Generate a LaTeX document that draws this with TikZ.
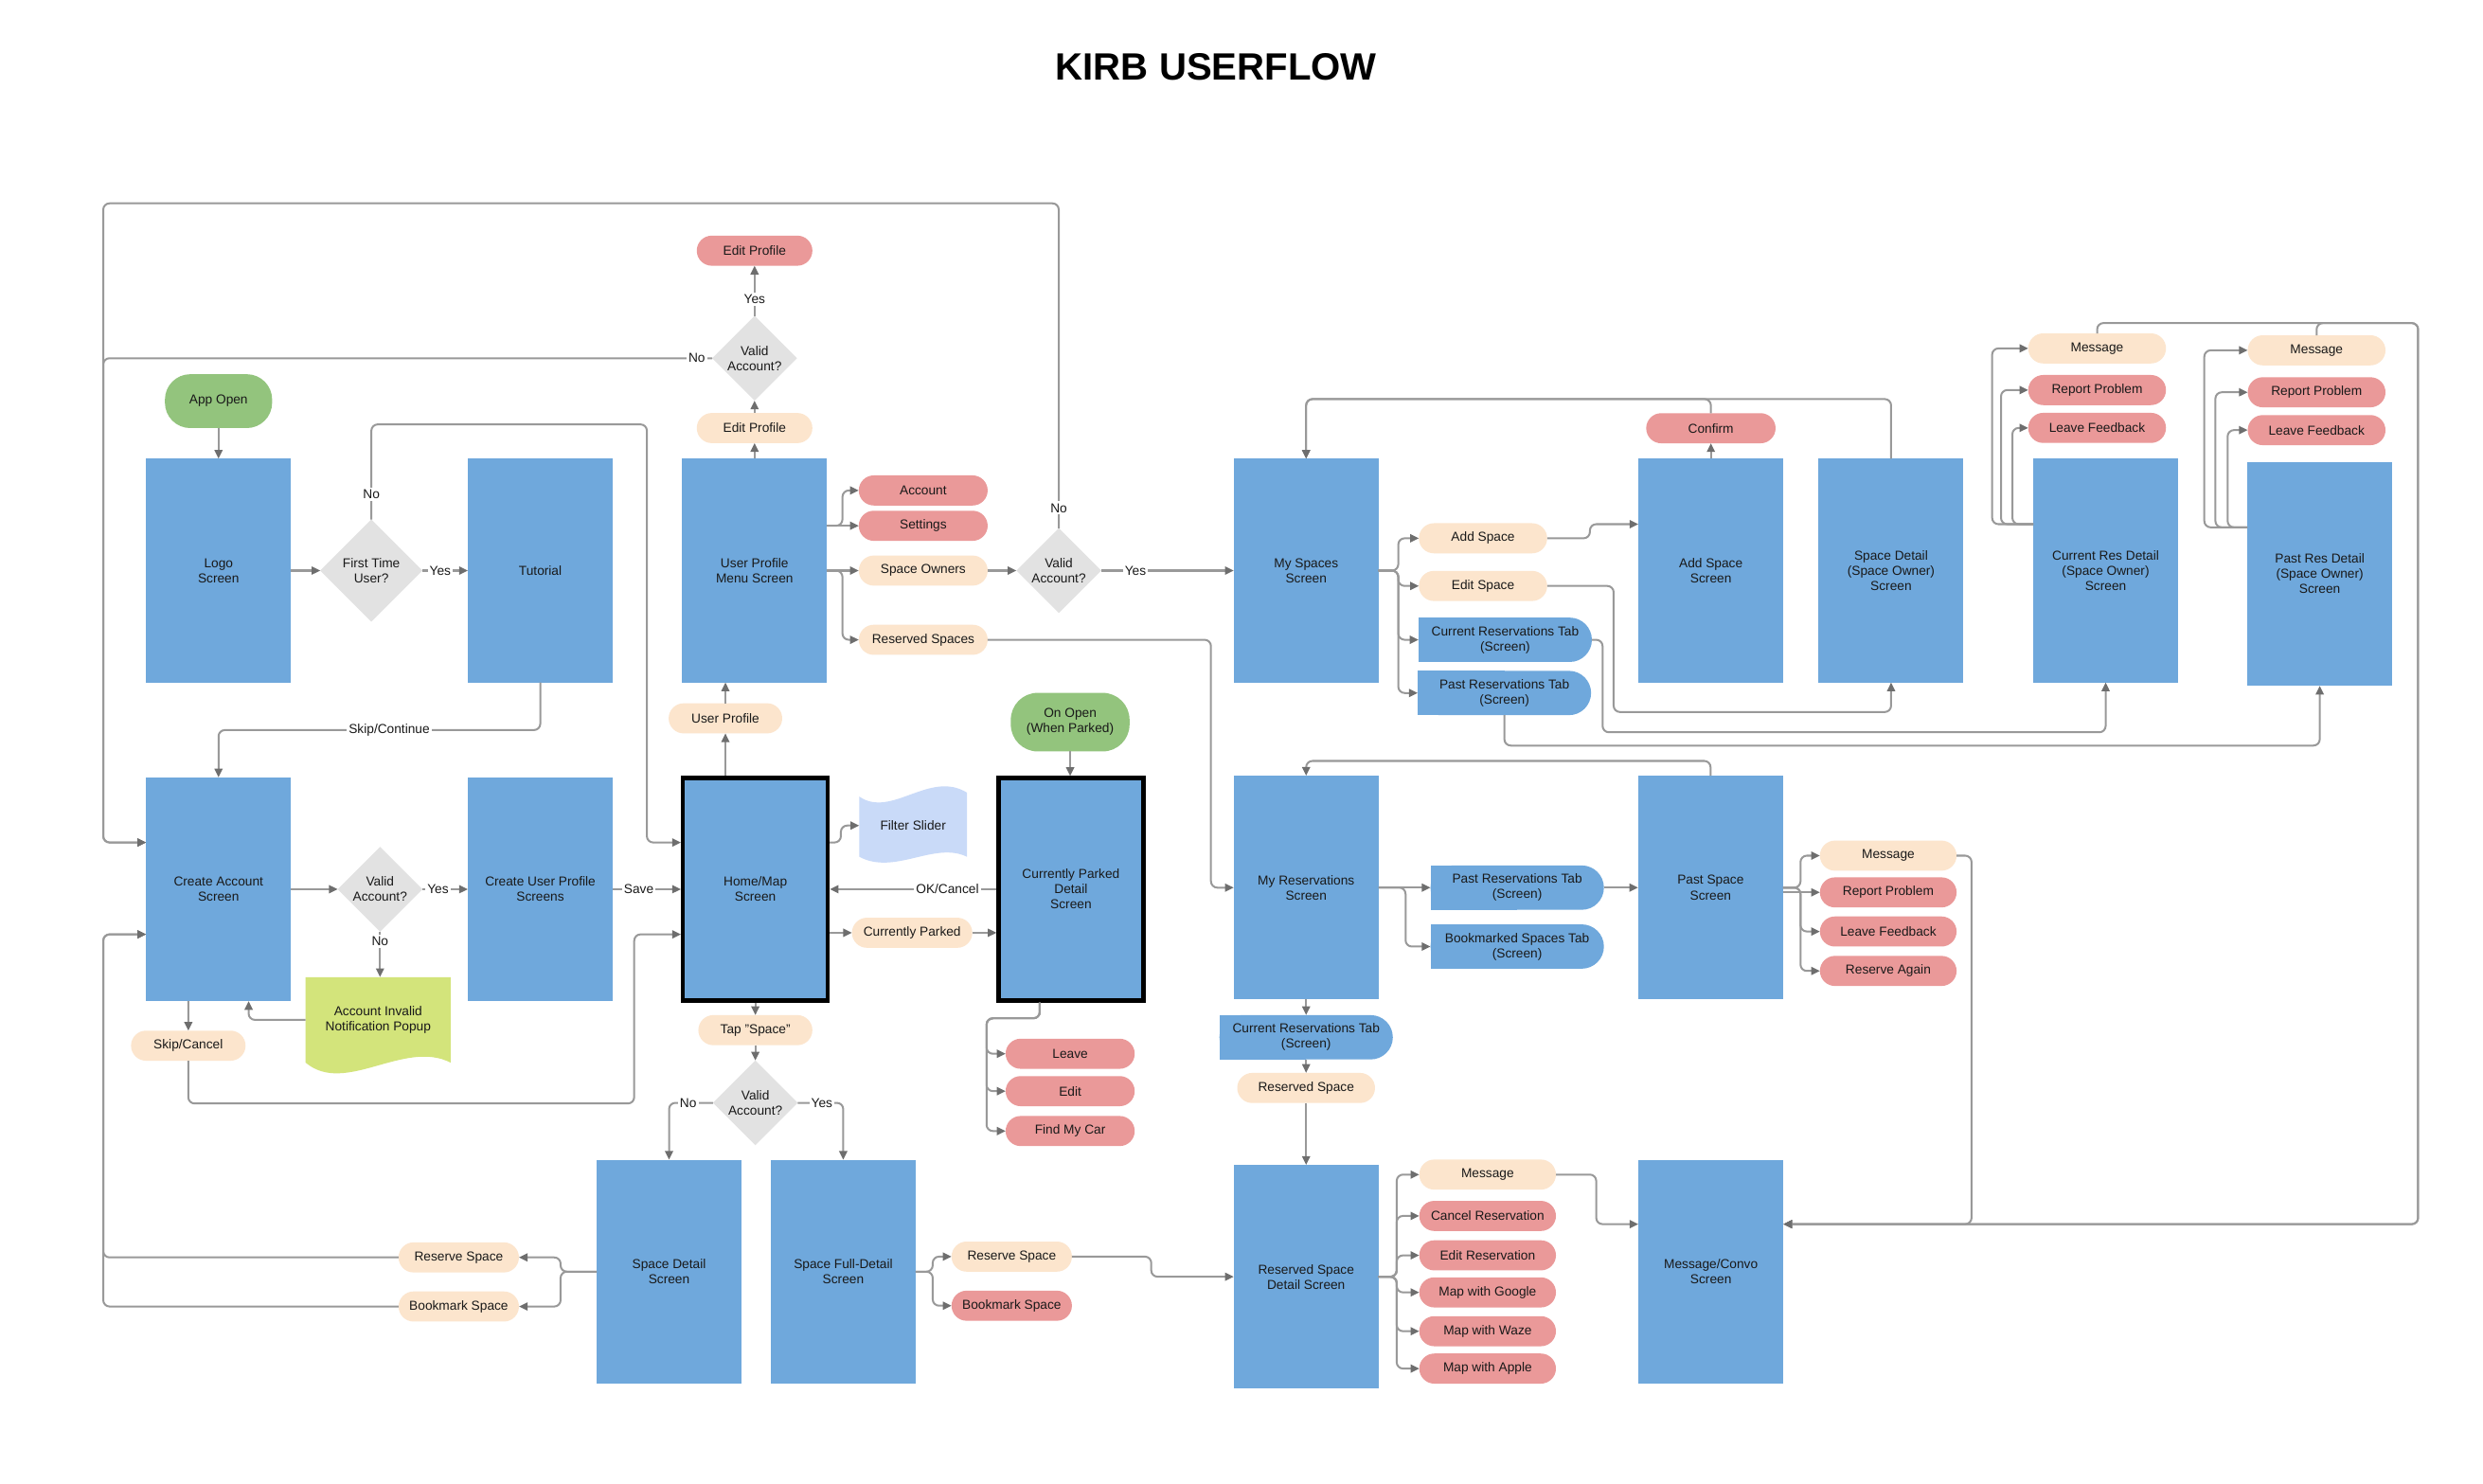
\documentclass[tikz,border=0pt]{standalone}
\usepackage{fontspec}
\setmainfont{Liberation Sans}
\usetikzlibrary{arrows.meta,shapes.geometric,backgrounds}
\definecolor{scrblue}{HTML}{6FA8DC}
\definecolor{peach}{HTML}{FCE5CD}
\definecolor{pillred}{HTML}{EA9999}
\definecolor{termgreen}{HTML}{93C47D}
\definecolor{diagray}{HTML}{E2E2E2}
\definecolor{filterblue}{HTML}{C9DAF8}
\definecolor{limegreen}{HTML}{D3E47B}
\definecolor{linegray}{HTML}{999999}
\definecolor{tipgray}{HTML}{6E6E6E}
\begin{document}
\begin{tikzpicture}[x=1pt,y=-1pt,
 base/.style={font=\fontsize{8.2}{9.6}\selectfont, align=center, inner sep=0pt, outer sep=0pt, text=black!90},
 scr/.style={base, rectangle, fill=scrblue, minimum width=91.5pt, minimum height=141.3pt},
 thickscr/.style={scr, draw=black, line width=2.5pt, outer sep=1.25pt, minimum width=91.5pt, minimum height=140.5pt},
 pill/.style={base, rectangle, rounded corners=9.5pt, minimum height=19pt, minimum width=#1},
 pill/.default=81pt,
 opt/.style={pill=#1, fill=peach},
 opt/.default=81pt,
 act/.style={pill=#1, fill=pillred},
 act/.default=81pt,
 term/.style={base, rectangle, fill=termgreen, rounded corners=16pt},
 dia/.style={base, diamond, fill=diagray, minimum width=#1, minimum height=#1},
 dia/.default=53.5pt,
 tab/.style={base, rectangle, fill=scrblue, rounded corners=14pt, minimum width=109.5pt, minimum height=28pt},
 conn/.style={draw=linegray, line width=1.2pt, rounded corners=4pt, -{Triangle[length=5.5pt,width=5pt,color=tipgray]}},
 lbl/.style={base, fill=white, inner sep=1.3pt}
]
\useasboundingbox (0,0) rectangle (1568,936.5);

% title
\node[font=\fontsize{24}{28}\selectfont\bfseries, inner sep=0pt] (title) at (768,42) {KIRB USERFLOW};

% screens
\node[scr] (logo) at (138,360.3) {Logo\\Screen};
\node[scr] (tut) at (341.2,360.3) {Tutorial};
\node[scr] (upm) at (476.5,360.3) {User Profile\\Menu Screen};
\node[scr] (mysp) at (824.8,360.3) {My Spaces\\Screen};
\node[scr] (addsc) at (1080.4,360.3) {Add Space\\Screen};
\node[scr] (sdso) at (1194.2,360.3) {Space Detail\\(Space Owner)\\Screen};
\node[scr] (crd) at (1329.7,360.3) {Current Res Detail\\(Space Owner)\\Screen};
\node[scr] (prd) at (1464.9,362.4) {Past Res Detail\\(Space Owner)\\Screen};
\node[scr] (ca) at (138,561.5) {Create Account\\Screen};
\node[scr] (cup) at (341.2,561.5) {Create User Profile\\Screens};
\node[thickscr] (home) at (477,561.5) {Home/Map\\Screen};
\node[thickscr] (cpd) at (676.3,561.5) {Currently Parked\\Detail\\Screen};
\node[scr] (myres) at (824.8,560.5) {My Reservations\\Screen};
\node[scr] (past) at (1080.2,560.5) {Past Space\\Screen};
\node[scr] (sd) at (422.5,803) {Space Detail\\Screen};
\node[scr] (sfd) at (532.5,803) {Space Full-Detail\\Screen};
\node[scr] (rsd) at (824.8,806.2) {Reserved Space\\Detail Screen};
\node[scr] (mc) at (1080.4,803) {Message/Convo\\Screen};

% tabs
\node[tab] (crtab1) at (950.5,404) {Current Reservations Tab\\(Screen)};
\node[tab] (prtab1) at (950,437.6) {Past Reservations Tab\\(Screen)};
\node[tab] (prtab2) at (958.1,560.5) {Past Reservations Tab\\(Screen)};
\node[tab] (bmtab) at (958.1,597.7) {Bookmarked Spaces Tab\\(Screen)};
\node[tab] (crtab2) at (824.8,655) {Current Reservations Tab\\(Screen)};

% decisions
\node[dia=53.5pt] (dtop) at (476.5,226.2) {Valid\\Account?};
\node[dia=64.5pt] (ftu) at (234.5,360.3) {First Time\\User?};
\node[dia=53.5pt] (dso) at (668.6,360.3) {Valid\\Account?};
\node[dia=53.5pt] (dca) at (240,561.5) {Valid\\Account?};
\node[dia=53.5pt] (dtap) at (477,696.4) {Valid\\Account?};

% pills and terminators
\node[act=73pt] (epred) at (476.5,158.3) {Edit Profile};
\node[opt=73pt] (eppeach) at (476.5,270.3) {Edit Profile};
\node[term, minimum width=67.7pt, minimum height=34pt] (appopen) at (138,253.3) {App Open};
\node[act=81.4pt] (acc) at (583,309.7) {Account};
\node[act=81.4pt] (sett) at (583,332) {Settings};
\node[opt=81.4pt] (sown) at (583,360.3) {Space Owners};
\node[opt=81.4pt] (ress) at (583,404) {Reserved Spaces};
\node[opt=71.7pt] (uprof) at (458.1,453.6) {User Profile};
\node[term, minimum width=75pt, minimum height=37pt, rounded corners=17pt] (onopen) at (675.8,456) {On Open\\(When Parked)};
\node[base, minimum width=68pt, minimum height=40pt] (filter) at (576.6,521.3) {Filter Slider};
\node[opt=76pt] (curpark) at (576,589) {Currently Parked};
\node[opt=72.3pt] (skipc) at (118.9,660.3) {Skip/Cancel};
\node[base, minimum width=91.6pt, minimum height=54pt] (popup) at (238.8,644) {Account Invalid\\Notification Popup};
\node[opt=72pt] (tapsp) at (477,650.5) {Tap "Space"};
\node[act=81.5pt] (leave) at (675.8,665.4) {Leave};
\node[act=81.5pt] (editp) at (675.8,689) {Edit};
\node[act=81.5pt] (findcar) at (675.8,714.2) {Find My Car};
\node[opt=81pt] (addsp) at (936.5,339.9) {Add Space};
\node[opt=81pt] (editsp) at (936.5,370) {Edit Space};
\node[act=81.7pt] (confirm) at (1080.4,270.4) {Confirm};
\node[opt=87pt] (msg1) at (1324.3,220) {Message};
\node[act=87pt] (rp1) at (1324.3,246.3) {Report Problem};
\node[act=87pt] (lf1) at (1324.3,270.2) {Leave Feedback};
\node[opt=87pt] (msg2) at (1462.9,221.2) {Message};
\node[act=87pt] (rp2) at (1462.9,247.7) {Report Problem};
\node[act=87pt] (lf2) at (1462.9,271.6) {Leave Feedback};
\node[opt=86.3pt] (msg3) at (1192.4,540.3) {Message};
\node[act=86.3pt] (rp3) at (1192.4,563.5) {Report Problem};
\node[act=86.3pt] (lf3) at (1192.4,588.2) {Leave Feedback};
\node[act=86.3pt] (ragain) at (1192.4,613.1) {Reserve Again};
\node[opt=87pt] (rspace) at (824.8,687) {Reserved Space};
\node[opt=86.3pt] (msg4) at (939.4,741.7) {Message};
\node[act=86.3pt] (cancelr) at (939.4,767.8) {Cancel Reservation};
\node[act=86.3pt] (editr) at (939.4,792.7) {Edit Reservation};
\node[act=86.3pt] (mgoogle) at (939.4,816.1) {Map with Google};
\node[act=86.3pt] (mwaze) at (939.4,840.6) {Map with Waze};
\node[act=86.3pt] (mapple) at (939.4,864.2) {Map with Apple};
\node[opt=76pt] (rsl) at (289.7,794) {Reserve Space};
\node[opt=76pt] (bsl) at (289.7,825) {Bookmark Space};
\node[opt=76pt] (rsr) at (638.9,793.5) {Reserve Space};
\node[act=76pt] (bsr) at (638.9,824.5) {Bookmark Space};

% background shapes
\begin{scope}[on background layer]
\fill[white] (0,0) rectangle (1568,936.5);
\foreach \t in {crtab1,prtab1,prtab2,bmtab,crtab2}
  \fill[scrblue] (\t.north west) rectangle (\t.south);
\fill[filterblue] (542.6,503) .. controls (563,517) and (587,486) .. (610.6,500.5)
  -- (610.6,541) .. controls (590,531) and (565,553) .. (542.6,541) -- cycle;
\fill[limegreen] (popup.north west) -- (popup.north east) -- (popup.south east)
  .. controls (255,656) and (218,692) .. (popup.south west) -- cycle;
\end{scope}

% connectors
\draw[conn] (appopen.south) -- (logo.north);
\draw[conn] (logo.east) -- (ftu.west);
\draw[conn] (ftu.east) -- (tut.west);
\draw[conn] (ftu.north) -- (234.5,268) -- (408.5,268) -- (408.5,532) -- (home.west |- 0,532);
\draw[conn] (tut.south) -- (341.2,461) -- (138,461) -- (ca.north);
\draw[conn] (ca.east) -- (dca.west);
\draw[conn] (dca.east) -- (cup.west);
\draw[conn] (dca.south) -- (dca.south |- popup.north);
\draw[conn] (popup.west) -- (157,644) -- (ca.south -| 157,0);
\draw[conn] (ca.south -| 119,0) -- (skipc.north);
\draw[conn] (skipc.south) -- (118.9,696.8) -- (400.5,696.8) -- (400.5,590) -- (home.west |- 0,590);
\draw[conn] (cup.east) -- (home.west);
\draw[conn] (home.north -| uprof.north) -- (uprof.south);
\draw[conn] (uprof.north) -- (upm.south -| uprof.north);
\draw[conn] (upm.north) -- (eppeach.south);
\draw[conn] (eppeach.north) -- (dtop.south);
\draw[conn] (dtop.north) -- (epred.south);
\draw[conn] (dtop.west) -- (65.2,226.2) -- (65.2,532) -- (ca.west |- 0,532);
\draw[conn] (dso.north) -- (668.6,128.4) -- (65.2,128.4) -- (65.2,532) -- (ca.west |- 0,532);
\draw[conn] (upm.east |- sett.west) -- (532,332) -- (532,309.7) -- (acc.west);
\draw[conn] (upm.east |- sett.west) -- (sett.west);
\draw[conn] (upm.east) -- (sown.west);
\draw[conn] (upm.east) -- (532,360.3) -- (532,404) -- (ress.west);
\draw[conn] (sown.east) -- (dso.west);
\draw[conn] (dso.east) -- (mysp.west);
\draw[conn] (ress.east) -- (764.7,404) -- (764.7,560.5) -- (myres.west);
\draw[conn] (home.east |- 0,532) -- (531,532) -- (531,521.3) -- (filter.west);
\draw[conn] (cpd.west) -- (home.east);
\draw[conn] (home.east |- curpark.west) -- (curpark.west);
\draw[conn] (curpark.east) -- (cpd.west |- curpark.east);
\draw[conn] (onopen.south) -- (cpd.north -| onopen.south);
\foreach \p in {leave,editp,findcar}
  \draw[conn] (cpd.south -| 656.6,0) -- (656.6,643) -- (623,643) -- (\p.west -| 623,0) -- (\p.west);
\draw[conn] (home.south) -- (tapsp.north);
\draw[conn] (tapsp.south) -- (dtap.north);
\draw[conn] (dtap.west) -- (422.5,696.4) -- (sd.north);
\draw[conn] (dtap.east) -- (532.5,696.4) -- (sfd.north);
\draw[conn] (sd.west) -- (354,803) -- (354,794) -- (rsl.east);
\draw[conn] (sd.west) -- (354,803) -- (354,825) -- (bsl.east);
\draw[conn] (rsl.west) -- (65.2,794) -- (65.2,590) -- (ca.west |- 0,590);
\draw[conn] (bsl.west) -- (65.2,825) -- (65.2,590) -- (ca.west |- 0,590);
\draw[conn] (sfd.east) -- (589,803) -- (589,793.5) -- (rsr.west);
\draw[conn] (sfd.east) -- (589,803) -- (589,824.5) -- (bsr.west);
\draw[conn] (rsr.east) -- (727,793.5) -- (727,806.2) -- (rsd.west);
\draw[conn] (myres.south) -- (crtab2.north);
\draw[conn] (crtab2.south) -- (rspace.north);
\draw[conn] (rspace.south) -- (rsd.north);
\foreach \p in {msg4,cancelr,editr,mgoogle,mwaze,mapple}
  \draw[conn] (rsd.east) -- (882,806.2) -- (\p.west -| 882,0) -- (\p.west);
\draw[conn] (msg4.east) -- (1008,741.7) -- (1008,773) -- (mc.west |- 0,773);
\draw[conn] (msg3.east) -- (1245,540.3) -- (1245,773) -- (mc.east |- 0,773);
\draw[conn] (msg1.north) -- (1324.3,204) -- (1527,204) -- (1527,773) -- (mc.east |- 0,773);
\draw[conn] (msg2.north) -- (1462.9,204) -- (1527,204) -- (1527,773) -- (mc.east |- 0,773);
\foreach \p in {addsp,editsp,crtab1,prtab1}
  \draw[conn] (mysp.east) -- (883,360.3) -- (\p.west -| 883,0) -- (\p.west);
\draw[conn] (addsp.east) -- (1004,339.9) -- (1004,331) -- (addsc.west |- 0,331);
\draw[conn] (addsc.north) -- (confirm.south);
\draw[conn] (confirm.north) -- (1080.4,252) -- (824.8,252) -- (mysp.north);
\draw[conn] (sdso.north) -- (1194.2,252) -- (824.8,252) -- (mysp.north);
\draw[conn] (editsp.east) -- (1019,370) -- (1019,449.6) -- (1194.2,449.6) -- (sdso.south);
\draw[conn] (crtab1.east) -- (1012,404) -- (1012,462.4) -- (1329.7,462.4) -- (crd.south);
\draw[conn] (prtab1.south) -- (950,470.8) -- (1464.9,470.8) -- (prd.south);
\draw[conn] (crd.west |- 0,331) -- (1258,331) -- (1258,220) -- (msg1.west);
\draw[conn] (crd.west |- 0,331) -- (1263.6,331) -- (1263.6,246.3) -- (rp1.west);
\draw[conn] (crd.west |- 0,331) -- (1270.8,331) -- (1270.8,270.2) -- (lf1.west);
\draw[conn] (prd.west |- 0,333) -- (1392,333) -- (1392,221.2) -- (msg2.west);
\draw[conn] (prd.west |- 0,333) -- (1399,333) -- (1399,247.7) -- (rp2.west);
\draw[conn] (prd.west |- 0,333) -- (1406.7,333) -- (1406.7,271.6) -- (lf2.west);
\draw[conn] (myres.east) -- (prtab2.west);
\draw[conn] (myres.east) -- (887.6,560.5) -- (887.6,597.7) -- (bmtab.west);
\draw[conn] (prtab2.east) -- (past.west |- prtab2.east);
\draw[conn] (past.north) -- (1080.2,480.5) -- (824.8,480.5) -- (myres.north);
\draw[conn] (past.east) -- (1137,560.5) -- (1137,540.3) -- (msg3.west);
\draw[conn] (past.east |- rp3.west) -- (rp3.west);
\draw[conn] (past.east) -- (1137,560.5) -- (1137,588.2) -- (lf3.west);
\draw[conn] (past.east) -- (1137,560.5) -- (1137,613.1) -- (ragain.west);

% connector labels
\node[lbl] (lyes1) at (278,360.3) {Yes};
\node[lbl] (lno1) at (234.5,312) {No};
\node[lbl] (lskip) at (245.8,461) {Skip/Continue};
\node[lbl] (lyes2) at (276.6,561.5) {Yes};
\node[lbl] (lno2) at (240,594.6) {No};
\node[lbl] (lsave) at (403.4,561.5) {Save};
\node[lbl] (lyes3) at (476.5,188.8) {Yes};
\node[lbl] (lno3) at (440,226.2) {No};
\node[lbl] (lno4) at (668.6,320.8) {No};
\node[lbl] (lyes4) at (717,360.3) {Yes};
\node[lbl] (lok) at (598.3,561.5) {OK/Cancel};
\node[lbl] (lno5) at (434.6,696.4) {No};
\node[lbl] (lyes5) at (519,696.4) {Yes};
\end{tikzpicture}
\end{document}
